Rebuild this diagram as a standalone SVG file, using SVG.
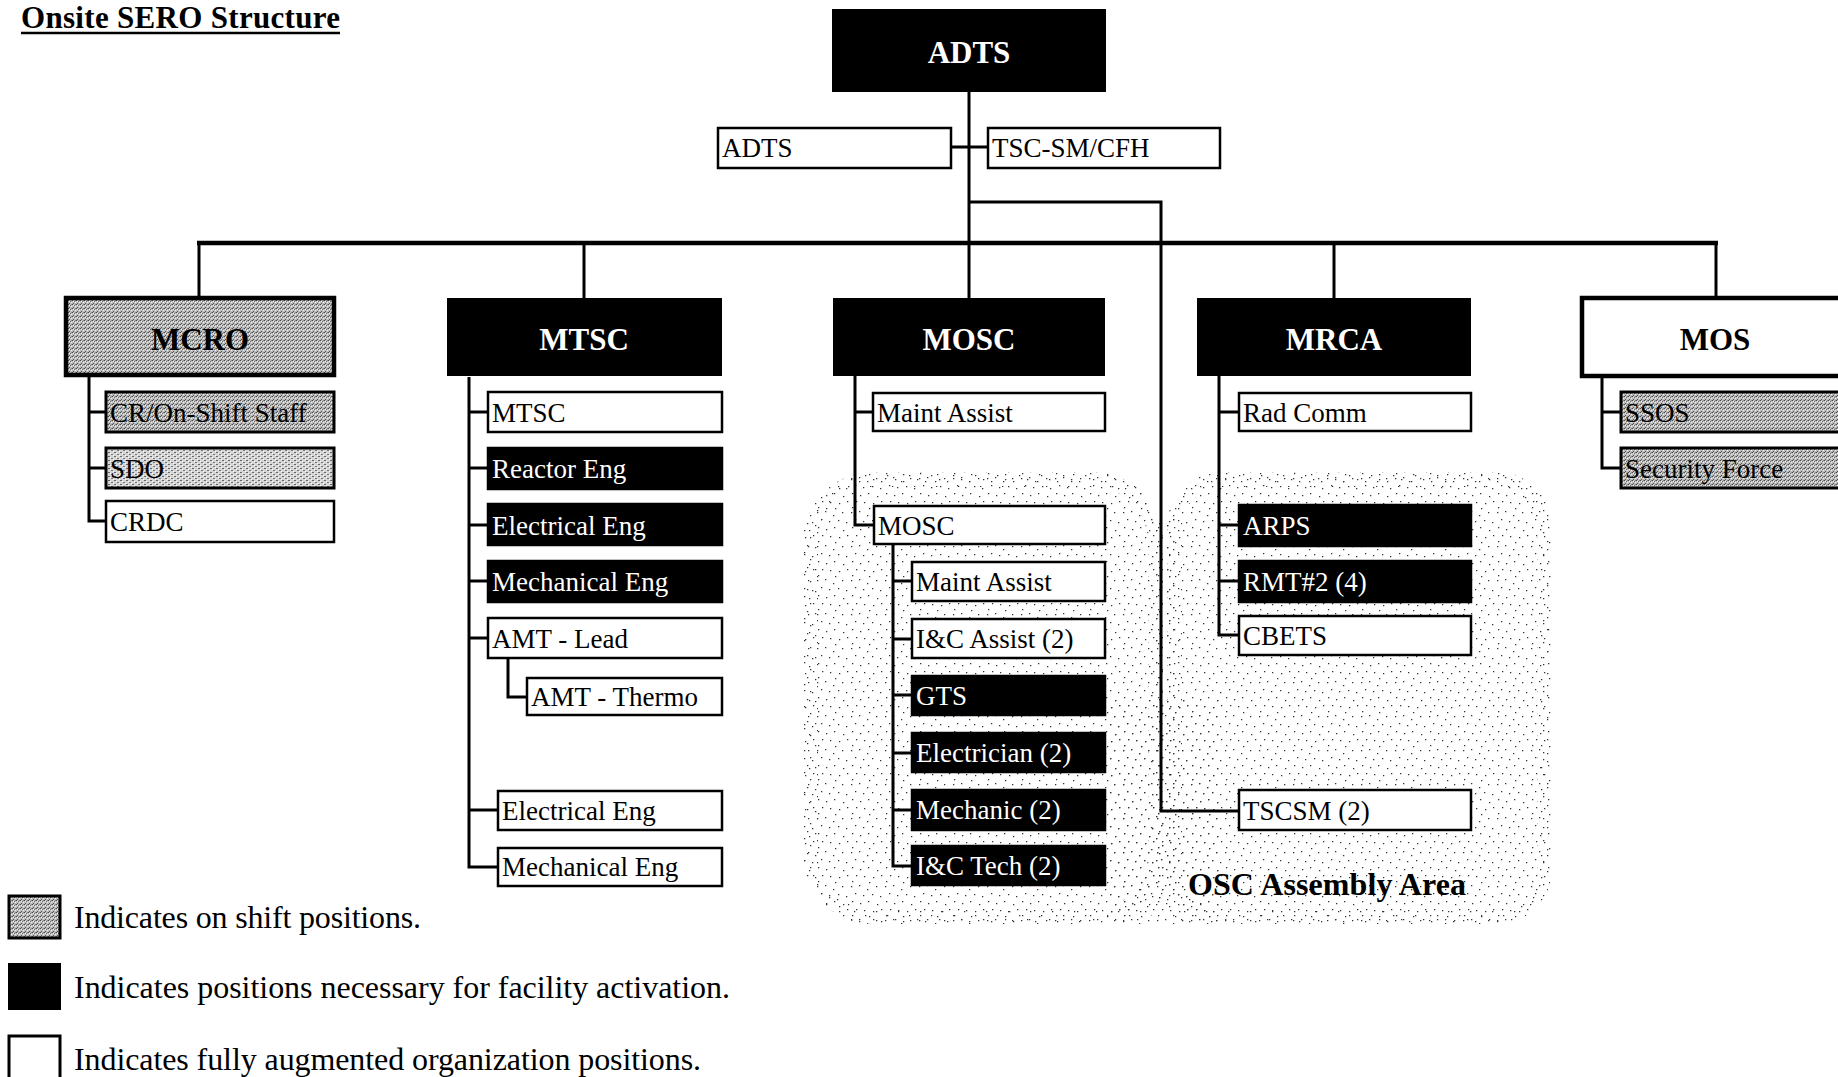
<svg xmlns="http://www.w3.org/2000/svg" width="1838" height="1077" viewBox="0 0 1838 1077">
<defs>
<pattern id="shift" width="4" height="4" patternUnits="userSpaceOnUse">
<rect width="4" height="4" fill="#bcbcbc"/>
<rect x="0" y="0" width="1" height="1" fill="#4a4a4a"/>
<rect x="2" y="1" width="1" height="1" fill="#6a6a6a"/>
<rect x="1" y="3" width="1" height="1" fill="#555"/>
<rect x="3" y="2" width="1" height="1" fill="#eee"/>
<rect x="1" y="1" width="1" height="1" fill="#f2f2f2"/>
<rect x="3" y="0" width="1" height="1" fill="#888"/>
</pattern>
<pattern id="shift2" width="6" height="4" patternUnits="userSpaceOnUse">
<rect width="6" height="4" fill="#d6d6d6"/>
<rect x="0" y="0" width="2" height="1" fill="#666"/>
<rect x="3" y="2" width="2" height="1" fill="#777"/>
<rect x="2" y="1" width="1" height="1" fill="#fff"/>
<rect x="5" y="3" width="1" height="1" fill="#fff"/>
</pattern>
<pattern id="stip" width="34" height="34" patternUnits="userSpaceOnUse">
<path fill="#333" d="M1 2h1.3v1.3h-1.3z M9 1h1.3v1.3h-1.3z M17 5h1.3v1.3h-1.3z M26 2h1.3v1.3h-1.3z M5 9h1.3v1.3h-1.3z M13 11h1.3v1.3h-1.3z M22 10h1.3v1.3h-1.3z M30 12h1.3v1.3h-1.3z M2 17h1.3v1.3h-1.3z M10 19h1.3v1.3h-1.3z M18 17h1.3v1.3h-1.3z M27 20h1.3v1.3h-1.3z M6 25h1.3v1.3h-1.3z M14 26h1.3v1.3h-1.3z M23 27h1.3v1.3h-1.3z M31 25h1.3v1.3h-1.3z M2 31h1.3v1.3h-1.3z M19 32h1.3v1.3h-1.3z"/>
</pattern>
<pattern id="stip2" width="22" height="22" patternUnits="userSpaceOnUse">
<path fill="#333" d="M3 4h1.3v1.3h-1.3z M12 2h1.3v1.3h-1.3z M18 9h1.3v1.3h-1.3z M7 13h1.3v1.3h-1.3z M15 17h1.3v1.3h-1.3z M1 19h1.3v1.3h-1.3z"/>
</pattern>
<clipPath id="oscclip">
<rect x="803" y="472" width="360" height="452" rx="70"/>
<rect x="1167" y="472" width="385" height="452" rx="55"/>
<rect x="1110" y="700" width="110" height="224"/>
</clipPath>
<style>
.ln{stroke:#000;stroke-width:3;fill:none}
.bar{stroke:#000;stroke-width:4.5;fill:none}
.bw{fill:#fff;stroke:#000;stroke-width:2.5}
.bb{fill:#000;stroke:#000;stroke-width:2.5}
.bg{fill:url(#shift);stroke:#000;stroke-width:3}
.bg2{fill:url(#shift2);stroke:#000;stroke-width:3}
.t{font-family:"Liberation Serif","Times New Roman",serif;font-size:27px;fill:#000}
.tw{fill:#fff}
.h{font-family:"Liberation Serif","Times New Roman",serif;font-size:31px;font-weight:bold;text-anchor:middle;fill:#000}
.lg{font-family:"Liberation Serif","Times New Roman",serif;font-size:32px;fill:#000}
</style>
</defs>

<g id="title">
<text x="21" y="28" style="font-family:'Liberation Serif','Times New Roman',serif;font-size:31px;font-weight:bold" textLength="319">Onsite SERO Structure</text>
<line x1="21" y1="33" x2="340" y2="33" stroke="#000" stroke-width="2.5"/>
</g>

<g id="osc-area">
<rect x="803" y="472" width="360" height="452" rx="70" fill="url(#stip)"/>
<rect x="1167" y="472" width="385" height="452" rx="55" fill="url(#stip)"/>
<rect x="1110" y="700" width="110" height="224" fill="url(#stip)"/>
<g clip-path="url(#oscclip)" fill="none" stroke="url(#stip2)" stroke-width="30">
<rect x="803" y="472" width="360" height="452" rx="70"/>
<rect x="1167" y="472" width="385" height="452" rx="55"/>
</g>
<text x="1188" y="895" style="font-family:'Liberation Serif','Times New Roman',serif;font-size:32px;font-weight:bold" textLength="278">OSC Assembly Area</text>
</g>

<g id="connectors">
<line class="ln" x1="969" y1="92" x2="969" y2="298"/>
<line class="ln" x1="951" y1="147" x2="988" y2="147"/>
<polyline class="ln" points="969,202 1161,202 1161,811 1239,811"/>
<line class="bar" x1="197" y1="243" x2="1718" y2="243"/>
<line class="ln" x1="199" y1="243" x2="199" y2="298"/>
<line class="ln" x1="584" y1="243" x2="584" y2="298"/>
<line class="ln" x1="1334" y1="243" x2="1334" y2="298"/>
<line class="ln" x1="1716" y1="243" x2="1716" y2="298"/>
<polyline class="ln" points="89,376 89,521 106,521"/>
<line class="ln" x1="89" y1="412" x2="106" y2="412"/>
<line class="ln" x1="89" y1="468" x2="106" y2="468"/>
<polyline class="ln" points="469,377 469,867 498,867"/>
<line class="ln" x1="469" y1="412" x2="488" y2="412"/>
<line class="ln" x1="469" y1="468" x2="488" y2="468"/>
<line class="ln" x1="469" y1="525" x2="488" y2="525"/>
<line class="ln" x1="469" y1="581" x2="488" y2="581"/>
<line class="ln" x1="469" y1="638" x2="488" y2="638"/>
<line class="ln" x1="469" y1="810" x2="498" y2="810"/>
<polyline class="ln" points="508,658 508,697 527,697"/>
<polyline class="ln" points="855,376 855,525 874,525"/>
<line class="ln" x1="855" y1="412" x2="873" y2="412"/>
<polyline class="ln" points="893,544 893,866 912,866"/>
<line class="ln" x1="893" y1="581" x2="912" y2="581"/>
<line class="ln" x1="893" y1="639" x2="912" y2="639"/>
<line class="ln" x1="893" y1="695" x2="912" y2="695"/>
<line class="ln" x1="893" y1="753" x2="912" y2="753"/>
<line class="ln" x1="893" y1="810" x2="912" y2="810"/>
<polyline class="ln" points="1219,376 1219,635 1239,635"/>
<line class="ln" x1="1219" y1="412" x2="1239" y2="412"/>
<line class="ln" x1="1219" y1="525" x2="1239" y2="525"/>
<line class="ln" x1="1219" y1="581" x2="1239" y2="581"/>
<polyline class="ln" points="1602,377 1602,468 1621,468"/>
<line class="ln" x1="1602" y1="412" x2="1621" y2="412"/>
</g>

<g id="node-adts"><rect x="832" y="9" width="274" height="83" fill="#000"/><text class="h" x="969" y="63" style="fill:#fff">ADTS</text></g>
<g id="node-adts-2"><rect class="bw" x="718" y="128" width="233" height="40"/><text class="t" x="722" y="157">ADTS</text></g>
<g id="node-tsc-sm-cfh"><rect class="bw" x="988" y="128" width="232" height="40"/><text class="t" x="992" y="157">TSC-SM/CFH</text></g>

<g id="node-mcro"><rect x="66" y="298" width="268" height="77" fill="url(#shift)" stroke="#000" stroke-width="4.5"/><text class="h" x="200" y="350">MCRO</text></g>
<g id="node-mtsc"><rect x="447" y="298" width="275" height="78" fill="#000"/><text class="h" x="584" y="350" style="fill:#fff">MTSC</text></g>
<g id="node-mosc"><rect x="833" y="298" width="272" height="78" fill="#000"/><text class="h" x="969" y="350" style="fill:#fff">MOSC</text></g>
<g id="node-mrca"><rect x="1197" y="298" width="274" height="78" fill="#000"/><text class="h" x="1334" y="350" style="fill:#fff">MRCA</text></g>
<g id="node-mos"><rect x="1582" y="298" width="280" height="78" fill="#fff" stroke="#000" stroke-width="4.5"/><text class="h" x="1715" y="350">MOS</text></g>

<g id="node-cr-on-shift-staff"><rect class="bg" x="106" y="392" width="228" height="40"/><text class="t" x="110" y="422">CR/On-Shift Staff</text></g>
<g id="node-sdo"><rect class="bg2" x="106" y="448" width="228" height="40"/><text class="t" x="110" y="478">SDO</text></g>
<g id="node-crdc"><rect class="bw" x="106" y="501" width="228" height="41"/><text class="t" x="110" y="531">CRDC</text></g>

<g id="node-mtsc-2"><rect class="bw" x="488" y="392" width="234" height="40"/><text class="t" x="492" y="422">MTSC</text></g>
<g id="node-reactor-eng"><rect class="bb" x="488" y="448" width="234" height="41"/><text class="t tw" x="492" y="478">Reactor Eng</text></g>
<g id="node-electrical-eng"><rect class="bb" x="488" y="504" width="234" height="41"/><text class="t tw" x="492" y="535">Electrical Eng</text></g>
<g id="node-mechanical-eng"><rect class="bb" x="488" y="561" width="234" height="41"/><text class="t tw" x="492" y="591">Mechanical Eng</text></g>
<g id="node-amt-lead"><rect class="bw" x="488" y="618" width="234" height="40"/><text class="t" x="492" y="648">AMT - Lead</text></g>
<g id="node-amt-thermo"><rect class="bw" x="527" y="678" width="195" height="37"/><text class="t" x="531" y="706">AMT - Thermo</text></g>
<g id="node-electrical-eng-2"><rect class="bw" x="498" y="791" width="224" height="39"/><text class="t" x="502" y="820">Electrical Eng</text></g>
<g id="node-mechanical-eng-2"><rect class="bw" x="498" y="848" width="224" height="38"/><text class="t" x="502" y="876">Mechanical Eng</text></g>

<g id="node-maint-assist"><rect class="bw" x="873" y="393" width="232" height="38"/><text class="t" x="877" y="422">Maint Assist</text></g>
<g id="node-mosc-2"><rect class="bw" x="874" y="506" width="231" height="38"/><text class="t" x="878" y="535">MOSC</text></g>
<g id="node-maint-assist-2"><rect class="bw" x="912" y="562" width="193" height="39"/><text class="t" x="916" y="591">Maint Assist</text></g>
<g id="node-ic-assist"><rect class="bw" x="912" y="619" width="193" height="39"/><text class="t" x="916" y="648">I&amp;C Assist (2)</text></g>
<g id="node-gts"><rect class="bb" x="912" y="676" width="193" height="39"/><text class="t tw" x="916" y="705">GTS</text></g>
<g id="node-electrician"><rect class="bb" x="912" y="733" width="193" height="39"/><text class="t tw" x="916" y="762">Electrician (2)</text></g>
<g id="node-mechanic"><rect class="bb" x="912" y="790" width="193" height="40"/><text class="t tw" x="916" y="819">Mechanic (2)</text></g>
<g id="node-ic-tech"><rect class="bb" x="912" y="846" width="193" height="39"/><text class="t tw" x="916" y="875">I&amp;C Tech (2)</text></g>

<g id="node-rad-comm"><rect class="bw" x="1239" y="393" width="232" height="38"/><text class="t" x="1243" y="422">Rad Comm</text></g>
<g id="node-arps"><rect class="bb" x="1239" y="505" width="232" height="41"/><text class="t tw" x="1243" y="535">ARPS</text></g>
<g id="node-rmt2"><rect class="bb" x="1239" y="561" width="232" height="41"/><text class="t tw" x="1243" y="591">RMT#2 (4)</text></g>
<g id="node-cbets"><rect class="bw" x="1239" y="616" width="232" height="39"/><text class="t" x="1243" y="645">CBETS</text></g>
<g id="node-tscsm"><rect class="bw" x="1239" y="790" width="232" height="40"/><text class="t" x="1243" y="820">TSCSM (2)</text></g>

<g id="node-ssos"><rect class="bg" x="1621" y="392" width="240" height="40"/><text class="t" x="1625" y="422">SSOS</text></g>
<g id="node-security-force"><rect class="bg" x="1621" y="448" width="240" height="40"/><text class="t" x="1625" y="478">Security Force</text></g>

<g id="legend">
<rect x="9" y="896" width="51" height="42" fill="url(#shift)" stroke="#000" stroke-width="3"/>
<text class="lg" x="74" y="928" textLength="347">Indicates on shift positions.</text>
<rect x="8" y="963" width="53" height="47" fill="#000"/>
<text class="lg" x="74" y="998" textLength="656">Indicates positions necessary for facility activation.</text>
<rect x="9" y="1036" width="51" height="50" fill="#fff" stroke="#000" stroke-width="3"/>
<text class="lg" x="74" y="1070" textLength="627">Indicates fully augmented organization positions.</text>
</g>
</svg>
